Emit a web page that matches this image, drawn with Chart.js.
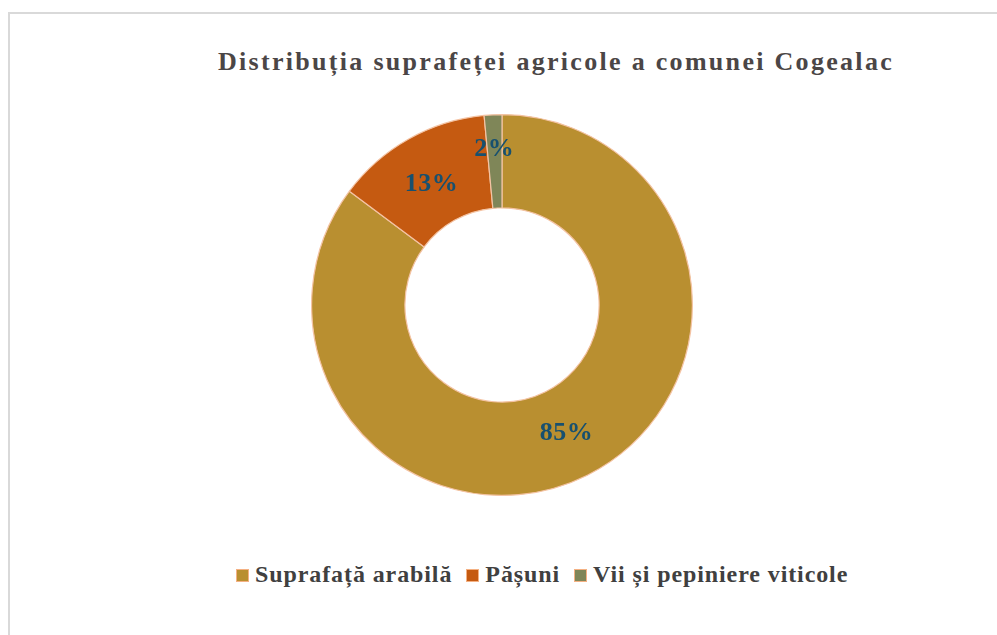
<!DOCTYPE html>
<html>
<head>
<meta charset="utf-8">
<script src="https://cdn.jsdelivr.net/npm/chart.js@4"></script>
<style>
    html, body { margin: 0; padding: 0; background: #fff; }
    body { width: 997px; height: 635px; position: relative; overflow: hidden; }
    .frame { position: absolute; left: 8px; top: 12px; width: 1000px; height: 640px; border: 2px solid #d9d9d9; box-sizing: border-box; }
    .title { position: absolute; left: 0; top: 47px; width: 1112px; text-align: center; font-family: "Liberation Serif", serif; font-weight: bold; font-size: 26px; letter-spacing: 2.3px; color: #4b4646; white-space: nowrap; }
    .legend { position: absolute; left: 236px; top: 561px; font-family: "Liberation Serif", serif; font-weight: bold; font-size: 24px; letter-spacing: 0.9px; color: #404040; white-space: nowrap; }
    .legend span.item { margin-right: 14px; }
    .legend i { display: inline-block; width: 13px; height: 13px; margin-right: 6px; vertical-align: 0px; border: 1.5px solid #f4b183; box-sizing: border-box; }
    .wrap { position: absolute; left: 311px; top: 114px; width: 382px; height: 382px; }
</style>
</head>
<body>
<div class="frame"></div>
<div class="title">Distribuția suprafeței agricole a comunei Cogealac</div>
<div class="legend" id="legend"></div>
<div class="wrap"><canvas id="chart"></canvas></div>
<script>
    // Data
    const categories = ['Suprafață arabilă', 'Pășuni', 'Vii și pepiniere viticole'];
    const shares = [85.2, 13.3, 1.5];
    const valueLabels = ['85%', '13%', '2%'];
    const colors = ['#b98f30', '#c55a11', '#7f8658'];

    // Legend (HTML)
    const legend = document.getElementById('legend');
    categories.forEach((c, i) => {
        const span = document.createElement('span');
        span.className = 'item';
        span.innerHTML = `<i style="background:${colors[i]}"></i>${c}`;
        legend.appendChild(span);
    });

    // Draw percentage labels at the arc centres
    const arcLabels = {
        id: 'arcLabels',
        afterDatasetsDraw(chart) {
            const ctx = chart.ctx;
            const meta = chart.getDatasetMeta(0);
            ctx.save();
            ctx.font = 'bold 26px "Liberation Serif", serif';
            ctx.letterSpacing = '0.5px';
            ctx.fillStyle = '#17506f';
            ctx.textAlign = 'center';
            ctx.textBaseline = 'middle';
            meta.data.forEach((arc, i) => {
                const p = arc.getCenterPoint();
                let x = p.x, y = p.y;
                if (i === 1) { y += 5; }
                if (i === 2) { y -= 12; x -= 1; }
                ctx.fillText(valueLabels[i], x, y);
            });
            ctx.restore();
        }
    };

    new Chart(document.getElementById('chart'), {
        type: 'doughnut',
        data: {
            labels: categories,
            datasets: [{
                data: shares,
                backgroundColor: colors,
                borderColor: '#f4c3a3',
                borderWidth: 1.2
            }]
        },
        options: {
            responsive: true,
            maintainAspectRatio: false,
            animation: false,
            cutout: '51%',
            layout: { padding: 0 },
            plugins: {
                legend: { display: false },
                tooltip: { enabled: false },
                title: { display: false }
            }
        },
        plugins: [arcLabels]
    });
</script>
</body>
</html>
